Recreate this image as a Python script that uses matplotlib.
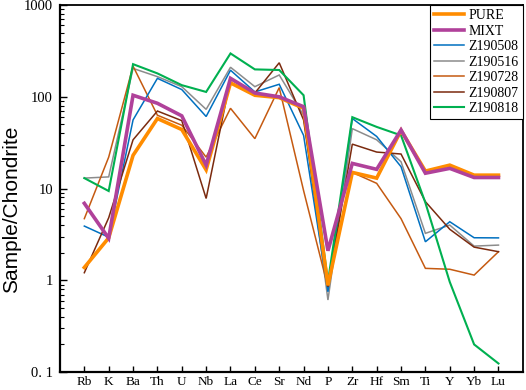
import numpy as np
import matplotlib
matplotlib.use("Agg")
import matplotlib.pyplot as plt
from matplotlib.ticker import FixedLocator, FixedFormatter, LogLocator, NullFormatter

# element order on the x axis
elements = ['Rb', 'K', 'Ba', 'Th', 'U', 'Nb', 'La', 'Ce', 'Sr', 'Nd',
            'P', 'Zr', 'Hf', 'Sm', 'Ti', 'Y', 'Yb', 'Lu']

# sample / chondrite values
pure = [1.38, 2.9, 23, 58, 44, 16, 142, 104, 98, 75,
        0.88, 15, 13, 43, 15.5, 18, 14, 14]
mixt = [6.9, 2.87, 104, 85, 62, 18, 159, 110, 100, 78,
        2.1, 18.8, 16.2, 43.5, 14.7, 16.6, 13.2, 13.2]
z190508 = [3.9, 2.95, 56, 159, 120, 61, 195, 113, 137, 38,
           0.75, 58, 37, 17.3, 2.63, 4.35, 2.91, 2.9]
z190516 = [13, 13.4, 204, 166, 129, 73, 210, 129, 173, 63,
           0.61, 45, 34, 19.6, 3.25, 4.0, 2.36, 2.42]
z190728 = [4.7, 22, 216, 63, 49, 22, 75, 35, 126, 9.5,
           0.84, 15, 11.4, 4.7, 1.35, 1.32, 1.14, 2.05]
z190807 = [1.21, 4.8, 34, 70, 55, 7.8, 155, 110, 235, 56,
           0.85, 30.5, 25, 23.8, 7.2, 3.6, 2.3, 2.05]
z190818 = [13, 9.4, 227, 180, 134, 113, 297, 199, 196, 104,
           0.96, 60, 47, 38, 7.0, 0.96, 0.20, 0.124]

ytick_vals = [0.1, 1, 10, 100, 1000]
ytick_text = ['0. 1', '1', '10', '100', '1000']

serif = ['Liberation Serif', 'DejaVu Serif']
plt.rcParams['font.family'] = serif

fig = plt.figure(figsize=(5.26, 3.90), dpi=100)
ax = fig.add_axes([0.114, 0.046, 0.880, 0.941])

x = np.arange(len(elements))

series = [
    ('PURE', pure, '#FF8C00', 2.6, 5),
    ('MIXT', mixt, '#B0419A', 2.6, 6),
    ('Z190508', z190508, '#0070C0', 1.1, 3),
    ('Z190516', z190516, '#8C8C8C', 1.1, 2),
    ('Z190728', z190728, '#C55A11', 1.1, 2),
    ('Z190807', z190807, '#7B2A0E', 1.1, 3),
    ('Z190818', z190818, '#00B050', 1.5, 4),
]
for name, vals, col, lw, z in series:
    ax.plot(x, vals, color=col, lw=lw, zorder=z, label=name, solid_joinstyle='miter')

ax.set_yscale('log')
ax.set_ylim(0.1, 1000)
ax.set_xlim(-1, len(elements))

ax.yaxis.set_major_locator(FixedLocator(ytick_vals))
ax.yaxis.set_major_formatter(FixedFormatter(ytick_text))
ax.yaxis.set_minor_locator(LogLocator(base=10, subs=np.arange(2, 10)))
ax.yaxis.set_minor_formatter(NullFormatter())

ax.set_xticks(x)
ax.set_xticklabels(elements)

ax.tick_params(axis='both', which='both', direction='in', color='black')
ax.tick_params(axis='y', which='major', length=5, width=1.0, labelsize=10.5, pad=5)
ax.tick_params(axis='y', which='minor', length=3, width=0.8)
ax.tick_params(axis='x', which='major', length=4, width=1.0, labelsize=9.5, pad=3)

for side in ['left', 'bottom']:
    ax.spines[side].set_linewidth(1.6)
for side in ['top', 'right']:
    ax.spines[side].set_linewidth(1.3)

ax.set_ylabel('Sample/Chondrite', family=['Liberation Sans', 'DejaVu Sans'],
              fontsize=15)
ax.yaxis.set_label_coords(-0.084, 0.444)

leg = ax.legend(loc='upper right', borderaxespad=0, fancybox=False,
                edgecolor='black', framealpha=1, fontsize=10,
                handlelength=2.2, labelspacing=0.18, borderpad=0.3,
                handletextpad=0.3)
leg.get_frame().set_linewidth(0.8)

fig.savefig('out.png', dpi=100)
